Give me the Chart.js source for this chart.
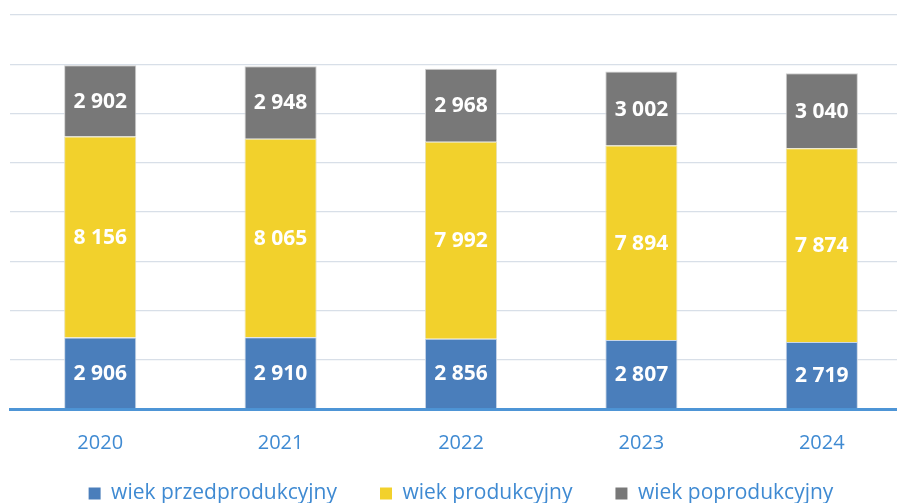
<!DOCTYPE html>
<html>
<head>
<meta charset="utf-8">
<script src="https://cdn.jsdelivr.net/npm/chart.js@4"></script>
<style>
  html, body { margin: 0; padding: 0; background: #fff; overflow: hidden; }
  #wrap { position: relative; width: 912px; height: 503px; }
</style>
</head>
<body>
<div id="wrap"><canvas id="popChart"></canvas></div>
<script>
// lata i grupy wieku
const years = ["2020", "2021", "2022", "2023", "2024"];
const preWorking = [2906, 2910, 2856, 2807, 2719];
const working = [8156, 8065, 7992, 7894, 7874];
const postWorking = [2902, 2948, 2968, 3002, 3040];
const seriesNames = ["wiek przedprodukcyjny", "wiek produkcyjny", "wiek poprodukcyjny"];

function fmt(v) {
  return String(v).replace(/\B(?=(\d{3})+(?!\d))/g, " ");
}

// wartości w środku słupków
const barLabels = {
  id: "barLabels",
  afterDatasetsDraw(chart) {
    const ctx = chart.ctx;
    ctx.save();
    ctx.fillStyle = "#ffffff";
    ctx.font = "bold 21px 'Open Sans'";
    ctx.textAlign = "center";
    ctx.textBaseline = "middle";
    chart.data.datasets.forEach((ds, i) => {
      chart.getDatasetMeta(i).data.forEach((bar, j) => {
        const mid = (bar.y + bar.base) / 2;
        ctx.fillText(fmt(ds.data[j]), bar.x, mid + 1);
      });
    });
    ctx.restore();
  }
};

const ctx = document.getElementById("popChart").getContext("2d");
new Chart(ctx, {
  type: "bar",
  data: {
    labels: years,
    datasets: [
      {
        label: seriesNames[0],
        data: preWorking,
        backgroundColor: "#4a7ebb",
        borderColor: "#c9d6e6",
        borderWidth: 1,
      },
      {
        label: seriesNames[1],
        data: working,
        backgroundColor: "#f2d12c",
        borderColor: "#e8e0b0",
        borderWidth: 1,
      },
      {
        label: seriesNames[2],
        data: postWorking,
        backgroundColor: "#787878",
        borderColor: "#d0d0d0",
        borderWidth: 1,
      },
    ],
  },
  options: {
    responsive: true,
    maintainAspectRatio: false,
    animation: false,
    datasets: {
      bar: { barPercentage: 0.4, categoryPercentage: 1.0 },
    },
    layout: { padding: { left: 10, right: 0, top: 15, bottom: -11 } },
    plugins: {
      tooltip: { enabled: false },
      legend: {
        position: "bottom",
        labels: {
          color: "#3f8ad2",
          font: { family: "'Open Sans'", size: 21 },
          boxWidth: 12,
          boxHeight: 12,
          padding: 1,
          generateLabels(chart) {
            const items = Chart.defaults.plugins.legend.labels.generateLabels(chart);
            items.forEach((it, i) => {
              it.lineWidth = 0;
              if (i < items.length - 1) it.text = it.text + "\u2003\u2003";
            });
            return items;
          },
        },
      },
    },
    scales: {
      x: {
        stacked: true,
        grid: { display: false },
        border: { display: true, color: "#4e95d6", width: 3 },
        ticks: {
          color: "#3f8ad2",
          font: { family: "'Open Sans'", size: 20 },
          padding: 14,
        },
        title: {
          display: true,
          text: " ",
          font: { size: 5 },
          padding: { top: 3, bottom: 4 },
        },
      },
      y: {
        stacked: true,
        min: 0,
        max: 16000,
        ticks: { display: false, stepSize: 2000 },
        border: { display: false },
        grid: { color: "#d8dfe8", lineWidth: 1.3, drawTicks: false },
      },
    },
  },
  plugins: [barLabels],
});
</script>
</body>
</html>
